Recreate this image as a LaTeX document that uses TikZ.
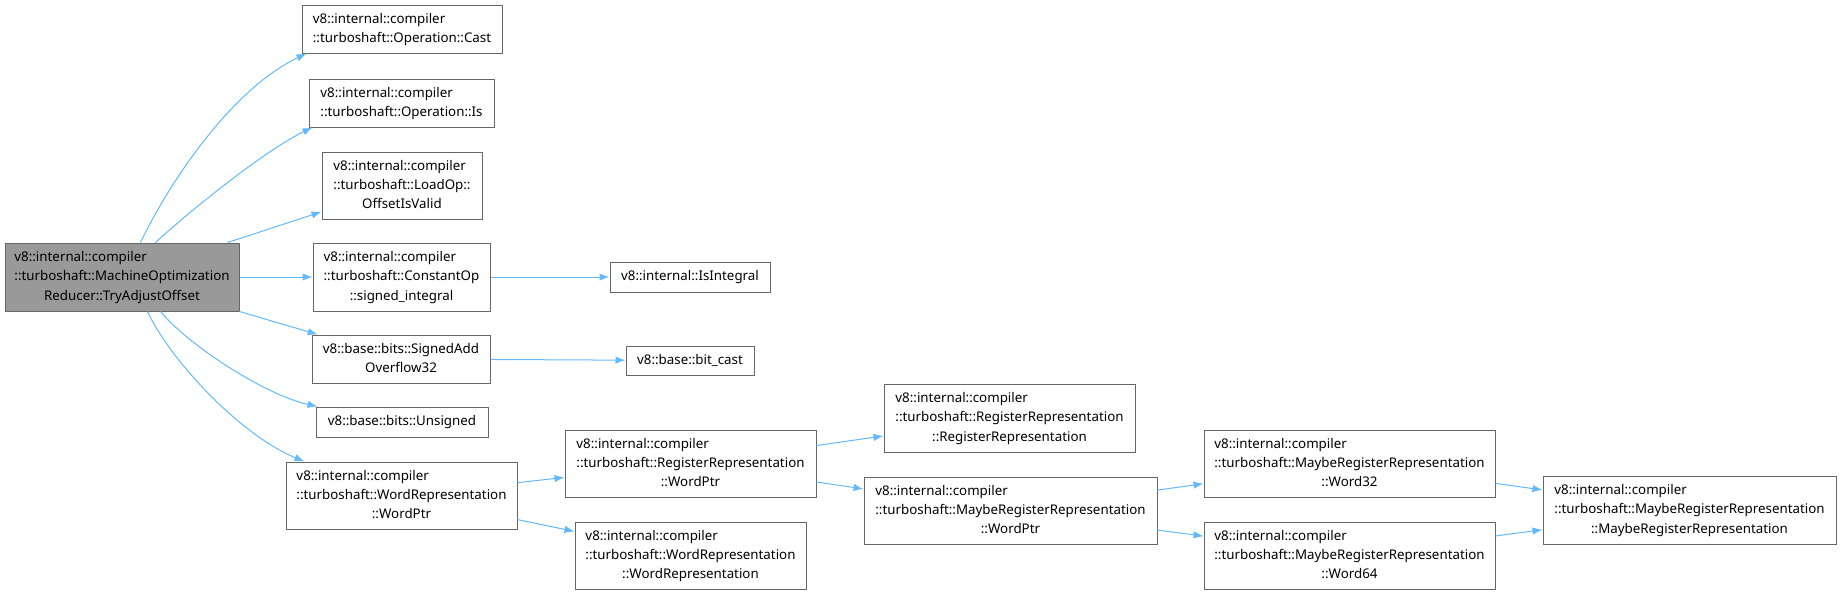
\documentclass[tikz,border=0pt]{standalone}
\usepackage{fontspec}
\setmainfont{Noto Sans}
\usetikzlibrary{arrows.meta,calc}
\definecolor{boxborder}{HTML}{666666}
\definecolor{mainfill}{HTML}{999999}
\definecolor{edgecol}{HTML}{63B8FF}
\newcommand{\onel}[1]{#1}
\newcommand{\twol}[2]{\begin{tabular}{@{}l@{}}#1\\\multicolumn{1}{@{}c@{}}{#2}\end{tabular}}
\newcommand{\threel}[3]{\begin{tabular}{@{}l@{}}#1\\#2\\\multicolumn{1}{@{}c@{}}{#3}\end{tabular}}
\begin{document}
\begin{tikzpicture}[x=0.75pt,y=-0.75pt,
  box/.style 2 args={draw=boxborder, line width=0.75pt, minimum width=#1*0.75pt,
    minimum height=#2*0.75pt, inner sep=0pt, font=\fontsize{10}{14.5}\selectfont, text=black},
  mainbox/.style={fill=mainfill},
  edge/.style={draw=edgecol, line width=0.75pt, -{Latex[length=7.5pt,width=5.5pt]}}]
\useasboundingbox (0,0) rectangle (1843,596);

\node[box={234}{68}, mainbox] (main) at (122,277)
  {\threel{v8::internal::compiler}{::turboshaft::MachineOptimization}{Reducer::TryAdjustOffset}};
\node[box={200}{48}] (cast) at (402,29)
  {\twol{v8::internal::compiler}{::turboshaft::Operation::Cast}};
\node[box={185}{48}] (is) at (401.5,103)
  {\twol{v8::internal::compiler}{::turboshaft::Operation::Is}};
\node[box={160}{67}] (offset) at (402,185.5)
  {\threel{v8::internal::compiler}{::turboshaft::LoadOp::}{OffsetIsValid}};
\node[box={177}{68}] (constop) at (401.5,277)
  {\threel{v8::internal::compiler}{::turboshaft::ConstantOp}{::signed\_integral}};
\node[box={160}{30}] (isint) at (690,277) {\onel{v8::internal::IsIntegral}};
\node[box={178}{48}] (signedadd) at (401,359)
  {\twol{v8::base::bits::SignedAdd}{Overflow32}};
\node[box={128}{29}] (bitcast) at (690,360.5) {\onel{v8::base::bit\_cast}};
\node[box={172}{30}] (unsigned) at (402,422) {\onel{v8::base::bits::Unsigned}};
\node[box={231}{67}] (wrwordptr) at (401.5,495.5)
  {\threel{v8::internal::compiler}{::turboshaft::WordRepresentation}{::WordPtr}};
\node[box={251}{67}] (rrwordptr) at (690.5,463.5)
  {\threel{v8::internal::compiler}{::turboshaft::RegisterRepresentation}{::WordPtr}};
\node[box={231}{67}] (wrwr) at (690.5,555.5)
  {\threel{v8::internal::compiler}{::turboshaft::WordRepresentation}{::WordRepresentation}};
\node[box={251}{68}] (rrrr) at (1009.5,418)
  {\threel{v8::internal::compiler}{::turboshaft::RegisterRepresentation}{::RegisterRepresentation}};
\node[box={293}{67}] (mrwordptr) at (1010.5,510.5)
  {\threel{v8::internal::compiler}{::turboshaft::MaybeRegisterRepresentation}{::WordPtr}};
\node[box={291}{67}] (word32) at (1349.5,463.5)
  {\threel{v8::internal::compiler}{::turboshaft::MaybeRegisterRepresentation}{::Word32}};
\node[box={291}{67}] (word64) at (1349.5,555.5)
  {\threel{v8::internal::compiler}{::turboshaft::MaybeRegisterRepresentation}{::Word64}};
\node[box={293}{68}] (mrmr) at (1689.5,510)
  {\threel{v8::internal::compiler}{::turboshaft::MaybeRegisterRepresentation}{::MaybeRegisterRepresentation}};

\draw[edge] ($(main.north west)+(136,0)$) .. controls (168,185) and (230,90) .. ($(cast.south west)+(5,0)$);
\draw[edge] ($(main.north west)+(151,0)$) .. controls (185,215) and (265,150) .. ($(is.south west)+(4,0)$);
\draw[edge] (main) -- (offset);
\draw[edge] (main) -- (constop);
\draw[edge] (main) -- (signedadd);
\draw[edge] ($(main.south west)+(156,0)$) .. controls (188,345) and (265,395) .. ($(unsigned.north west)+(2,0)$);
\draw[edge] ($(main.south west)+(143,0)$) .. controls (170,360) and (240,435) .. ($(wrwordptr.north west)+(19,0)$);
\draw[edge] (constop) -- (isint);
\draw[edge] (signedadd) -- (bitcast);
\draw[edge] (wrwordptr) -- (rrwordptr);
\draw[edge] (wrwordptr) -- (wrwr);
\draw[edge] (rrwordptr) -- (rrrr);
\draw[edge] (rrwordptr) -- (mrwordptr);
\draw[edge] (mrwordptr) -- (word32);
\draw[edge] (mrwordptr) -- (word64);
\draw[edge] (word32) -- (mrmr);
\draw[edge] (word64) -- (mrmr);
\end{tikzpicture}
\end{document}
